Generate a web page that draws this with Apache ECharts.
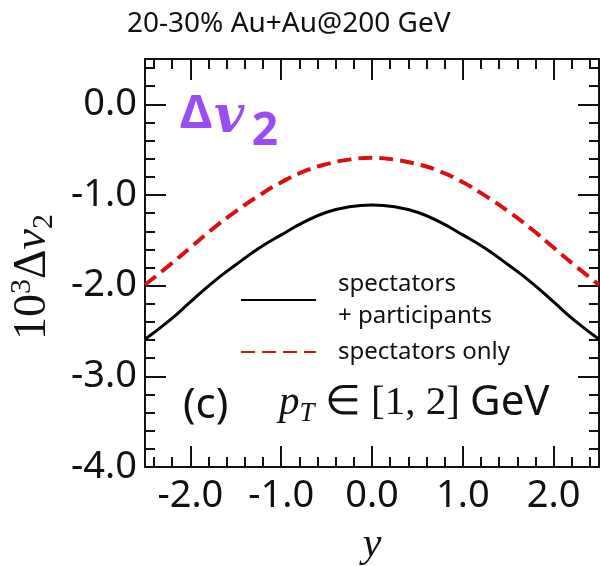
<!DOCTYPE html>
<html>
<head>
<meta charset="utf-8">
<script src="https://cdn.jsdelivr.net/npm/echarts@6/dist/echarts.min.js"></script>
<style>
  html, body { margin: 0; padding: 0; background: #fff; }
  #chart { width: 600px; height: 566px; }
</style>
</head>
<body>
<div id="chart"></div>
<script>
// Rapidity grid and 10^3 * Delta v2 for the two source configurations
const rapidity = [-2.5, -2.25, -2.0, -1.75, -1.5, -1.25, -1.0, -0.75, -0.5, -0.25, 0,
                  0.25, 0.5, 0.75, 1.0, 1.25, 1.5, 1.75, 2.0, 2.25, 2.5];
const specPart = [-2.59, -2.40, -2.18, -1.96, -1.77, -1.59, -1.44, -1.30, -1.19, -1.13, -1.11,
                  -1.13, -1.19, -1.30, -1.44, -1.59, -1.77, -1.96, -2.18, -2.40, -2.59];
const specOnly = [-1.99, -1.79, -1.58, -1.37, -1.18, -1.01, -0.86, -0.74, -0.66, -0.61, -0.59,
                  -0.61, -0.66, -0.74, -0.86, -1.01, -1.18, -1.37, -1.58, -1.79, -1.99];

const seriesNames = ['spectators\n+ participants', 'spectators only'];

// Tick positions
const xMajor = [-2, -1, 0, 1, 2];
const xMinor = [-2.4, -2.2, -1.8, -1.6, -1.4, -1.2, -0.8, -0.6, -0.4, -0.2,
                0.2, 0.4, 0.6, 0.8, 1.2, 1.4, 1.6, 1.8, 2.2, 2.4];
const yMajor = [-4, -3, -2, -1, 0];
const yMinor = [-3.8, -3.6, -3.4, -3.2, -2.8, -2.6, -2.4, -2.2, -1.8, -1.6, -1.4, -1.2,
                -0.8, -0.6, -0.4, -0.2, 0.2, 0.4];

const X_RANGE = [-2.5, 2.5];
const Y_RANGE = [-4.0, 0.5];

const SANS = '"Noto Sans", sans-serif';
const SERIF = '"Liberation Serif", serif';
const INK = '#111';
const PURPLE = '#9a4cf6';

function frameAxis(position, range, major, opts) {
  return Object.assign({
    type: 'value',
    position: position,
    min: range[0],
    max: range[1],
    splitLine: { show: false },
    axisLine: { show: true, onZero: false, lineStyle: { color: INK, width: 2 } },
    axisTick: { show: true, inside: true, length: 21, customValues: major,
                lineStyle: { color: INK, width: 2 } },
    axisLabel: { show: false }
  }, opts || {});
}

function minorAxis(position, range, minor) {
  return {
    type: 'value',
    position: position,
    min: range[0],
    max: range[1],
    splitLine: { show: false },
    axisLine: { show: false, onZero: false },
    axisTick: { show: true, inside: true, length: 10, customValues: minor,
                lineStyle: { color: INK, width: 2 } },
    axisLabel: { show: false }
  };
}

const tickLabel = {
  show: true,
  fontFamily: SANS,
  fontSize: 38,
  color: INK,
  formatter: v => v.toFixed(1)
};

const chart = echarts.init(document.getElementById('chart'), null, { renderer: 'canvas' });

chart.setOption({
  animation: false,
  backgroundColor: '#fff',
  title: {
    text: '20-30% Au+Au@200 GeV',
    left: 122,
    top: 5,
    textStyle: { fontFamily: SANS, fontSize: 28, fontWeight: 'normal', color: INK }
  },
  grid: { left: 145, right: 1, top: 59, bottom: 99, outerBoundsMode: 'none', containLabel: false },
  legend: {
    orient: 'vertical',
    left: 240,
    top: 268,
    padding: 0,
    itemWidth: 75,
    itemHeight: 14,
    itemGap: 4,
    itemStyle: { opacity: 0 },
    textStyle: { fontFamily: SANS, fontSize: 24, color: INK, lineHeight: 32, padding: [0, 0, 0, 17] },
    data: seriesNames
  },
  xAxis: [
    frameAxis('bottom', X_RANGE, xMajor, {
      axisLabel: Object.assign({ customValues: xMajor, margin: 10 }, tickLabel),
      name: 'y',
      nameLocation: 'middle',
      nameGap: 57,
      nameTextStyle: { fontFamily: SERIF, fontStyle: 'italic', fontSize: 42, color: INK }
    }),
    minorAxis('bottom', X_RANGE, xMinor),
    frameAxis('top', X_RANGE, xMajor),
    minorAxis('top', X_RANGE, xMinor)
  ],
  yAxis: [
    frameAxis('left', Y_RANGE, yMajor, {
      axisLabel: Object.assign({ customValues: yMajor, margin: 8 }, tickLabel),
      name: '{n|10}{sup|3}{n|Δ}{v|v}{sub|2}',
      nameLocation: 'middle',
      nameRotate: 90,
      nameGap: 86,
      nameTextStyle: {
        padding: [0, 28, 0, 0],
        rich: {
          n: { fontFamily: SERIF, fontSize: 46, color: INK, lineHeight: 52 },
          v: { fontFamily: SERIF, fontStyle: 'italic', fontSize: 46, color: INK, lineHeight: 52 },
          sup: { fontFamily: SERIF, fontSize: 30, color: INK, lineHeight: 30, verticalAlign: 'top' },
          sub: { fontFamily: SERIF, fontSize: 30, color: INK, lineHeight: 30, verticalAlign: 'bottom' }
        }
      }
    }),
    minorAxis('left', Y_RANGE, yMinor),
    frameAxis('right', Y_RANGE, yMajor),
    minorAxis('right', Y_RANGE, yMinor)
  ],
  graphic: [
    // panel tag: Delta v_2
    {
      type: 'text', x: 196, y: 115,
      style: { text: 'Δ', font: 'bold 47px "Noto Sans"', fill: PURPLE, align: 'center', verticalAlign: 'middle' }
    },
    {
      type: 'text', x: 229, y: 118,
      style: { text: 'v', font: 'italic bold 52px "DejaVu Serif"', fill: PURPLE, align: 'center', verticalAlign: 'middle' }
    },
    {
      type: 'text', x: 265, y: 132,
      style: { text: '2', font: 'bold 46px "Noto Sans"', fill: PURPLE, align: 'center', verticalAlign: 'middle' }
    },
    {
      type: 'text', left: 183, top: 385,
      style: { text: '(c)', font: '42px "Noto Sans"', fill: INK }
    },
    {
      type: 'text', left: 279, top: 382,
      style: {
        text: '{p|p}{t|T}{m| ∈ [1, 2] }{g|GeV}',
        rich: {
          p: { fontFamily: SERIF, fontStyle: 'italic', fontSize: 41, fill: INK, lineHeight: 48 },
          t: { fontFamily: SERIF, fontStyle: 'italic', fontSize: 27, fill: INK, lineHeight: 27, verticalAlign: 'bottom' },
          m: { fontFamily: SERIF, fontSize: 41, fill: INK, lineHeight: 48 },
          g: { fontFamily: SANS, fontSize: 42, fill: INK, lineHeight: 48 }
        }
      }
    }
  ],
  series: [
    {
      name: seriesNames[0],
      type: 'line',
      xAxisIndex: 0,
      yAxisIndex: 0,
      smooth: true,
      symbol: 'none',
      data: rapidity.map((r, i) => [r, specPart[i]]),
      lineStyle: { color: '#000', width: 3 },
      itemStyle: { color: '#000' }
    },
    {
      name: seriesNames[1],
      type: 'line',
      xAxisIndex: 0,
      yAxisIndex: 0,
      smooth: true,
      symbol: 'none',
      data: rapidity.map((r, i) => [r, specOnly[i]]),
      lineStyle: { color: '#d81010', width: 4, type: [14, 7] },
      itemStyle: { color: '#d81010' }
    }
  ]
});
</script>
</body>
</html>
